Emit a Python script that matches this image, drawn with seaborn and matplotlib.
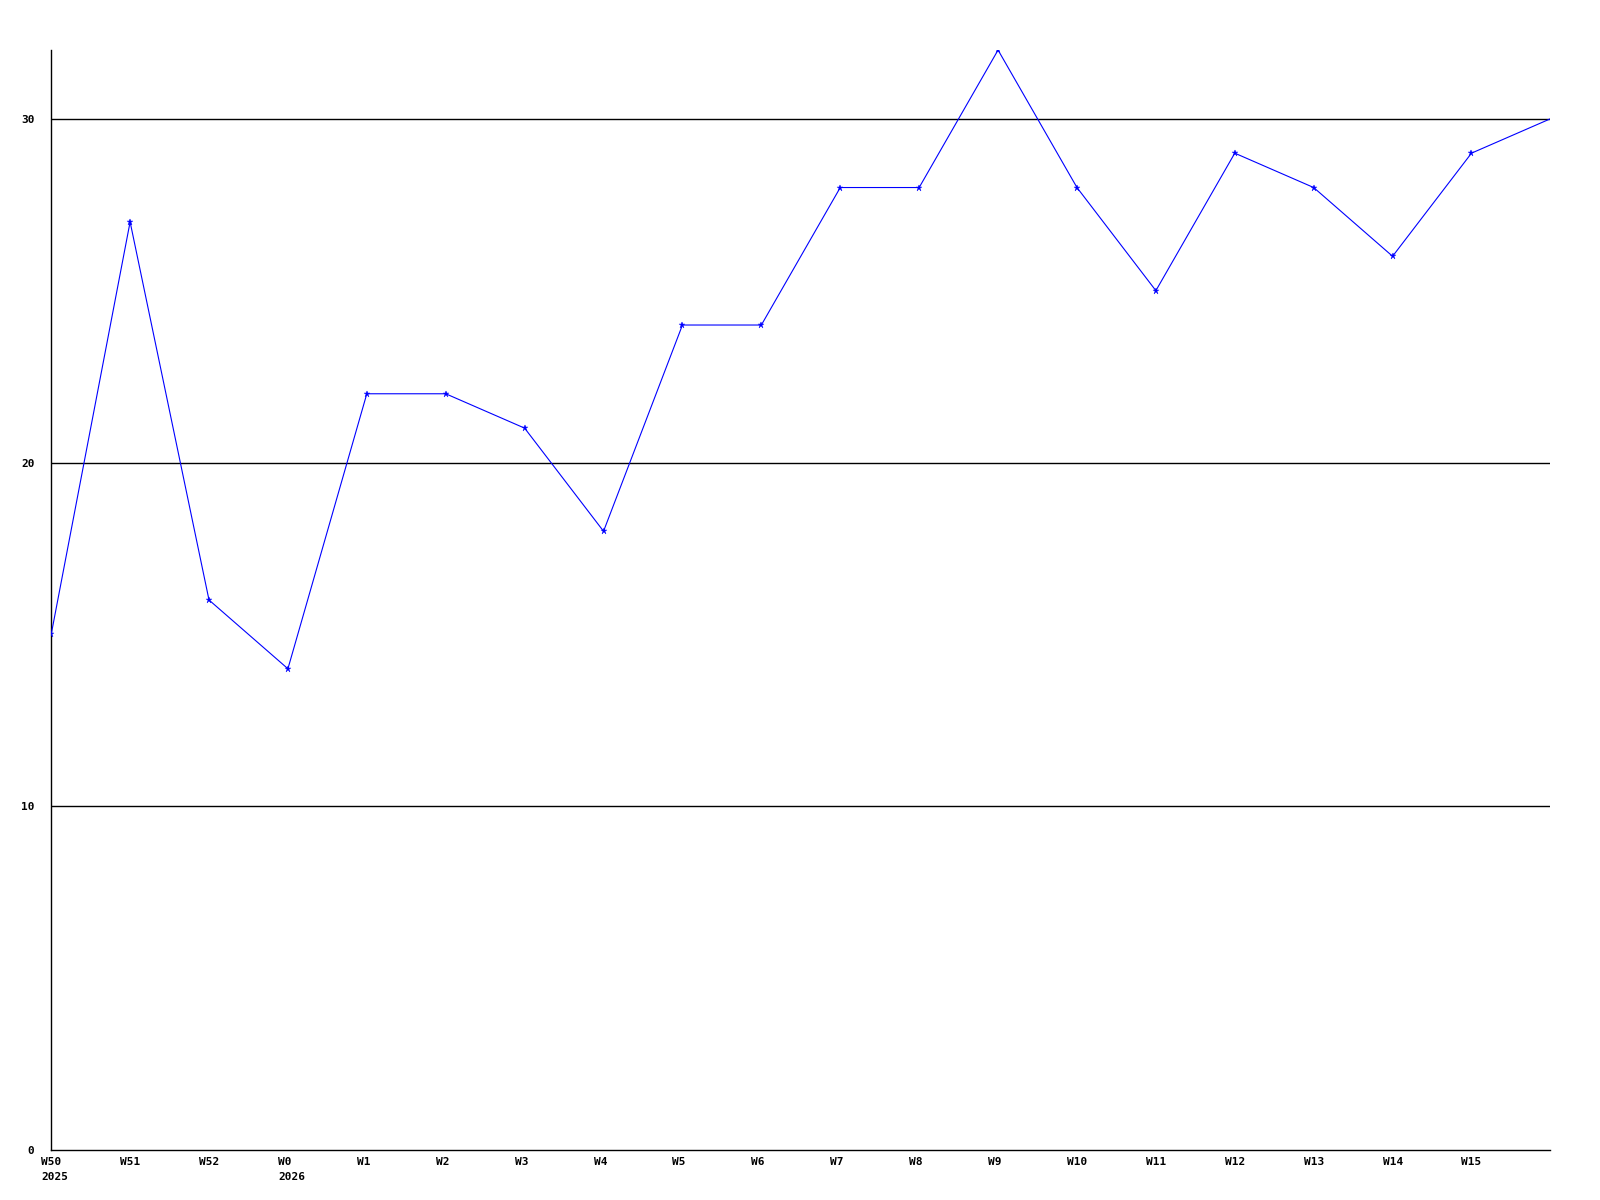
import numpy as np
import pandas as pd
import matplotlib.pyplot as plt
import matplotlib.transforms as mtransforms
import seaborn as sns

# weekly values (last point is the open week, no marker)
weeks = ["W50", "W51", "W52", "W0", "W1", "W2", "W3", "W4", "W5", "W6",
         "W7", "W8", "W9", "W10", "W11", "W12", "W13", "W14", "W15", ""]
years = ["2025", "", "", "2026", "", "", "", "", "", "",
         "", "", "", "", "", "", "", "", "", ""]
values = [15, 27, 16, 14, 22, 22, 21, 18, 24, 24,
          28, 28, 32, 28, 25, 29, 28, 26, 29, 30]
y_ticks = [0, 10, 20, 30]

df = pd.DataFrame({"pos": range(len(values)), "value": values})

sns.set_style("white")
plt.rcParams['font.family'] = ['DejaVu Sans Mono']
plt.rcParams['text.color'] = 'black'
plt.rcParams['xtick.color'] = 'black'
plt.rcParams['ytick.color'] = 'black'

fig = plt.figure(figsize=(16, 12), dpi=100)
ax = fig.add_axes([0.032, 0.0417, 0.937, 0.9166])

for t in y_ticks[1:]:
    ax.axhline(t, color="black", linewidth=1.0, zorder=1)

sns.lineplot(data=df, x="pos", y="value", ax=ax, color="#0000ff",
             linewidth=0.8, marker="*", markersize=5, markeredgewidth=0.3,
             markeredgecolor="#0000ff",
             markevery=list(range(len(values) - 1)), zorder=3)

ax.set_xlim(0, len(values) - 1)
ax.set_ylim(0, 32)
ax.set_xlabel("")
ax.set_ylabel("")

ax.tick_params(axis="both", length=0, colors="black")
ax.tick_params(axis="x", pad=5)
ax.tick_params(axis="y", pad=12)

labels = [w + ("\n" + y if y else "") for w, y in zip(weeks, years)]
ax.set_xticks(range(len(values)))
ax.set_xticklabels(labels, fontsize=8, fontweight="bold", ha="left",
                   va="top", linespacing=1.6)
offset = mtransforms.ScaledTranslation(-10 / 100, 0, fig.dpi_scale_trans)
for lbl in ax.xaxis.get_majorticklabels():
    lbl.set_transform(lbl.get_transform() + offset)

ax.set_yticks(y_ticks)
ax.set_yticklabels([str(t) for t in y_ticks], fontsize=8, fontweight="bold")

for side in ["top", "right"]:
    ax.spines[side].set_visible(False)
for side in ["left", "bottom"]:
    ax.spines[side].set_color("black")
    ax.spines[side].set_linewidth(1.0)
ax.grid(False)

fig.savefig("out.png", dpi=100, facecolor="white")
